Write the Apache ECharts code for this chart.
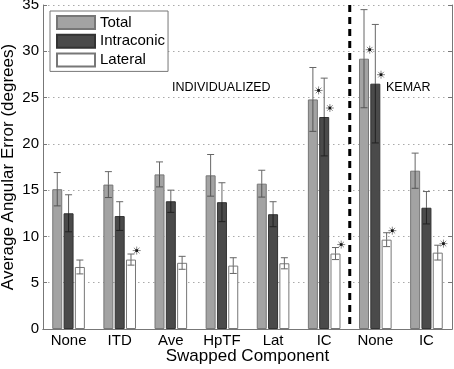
<!DOCTYPE html>
<html>
<head>
<meta charset="utf-8">
<script src="https://cdn.jsdelivr.net/npm/echarts@6/dist/echarts.min.js"></script>
<style>
  html, body { margin: 0; padding: 0; background: #fff; }
  #chart { width: 454px; height: 369px; }
</style>
</head>
<body>
<div id="chart"></div>
<script>
var categories = ['None', 'ITD', 'Ave', 'HpTF', 'Lat', 'IC', 'None', 'IC'];
var total      = [15.1, 15.6, 16.7, 16.6, 15.7, 24.8, 29.2, 17.1];
var totalErr   = [1.8, 1.4, 1.35, 2.25, 1.45, 3.45, 5.3, 1.9];
var intraconic = [12.5, 12.2, 13.8, 13.7, 12.4, 22.9, 26.5, 13.1];
var intraErr   = [2.0, 1.55, 1.2, 2.1, 1.35, 4.2, 6.4, 1.75];
var lateral    = [6.7, 7.5, 7.15, 6.85, 7.1, 8.15, 9.65, 8.25];
var latErr     = [0.75, 0.6, 0.7, 0.85, 0.6, 0.65, 0.75, 0.8];
// [category index, series index] of the starred bars
var stars = [[1, 2], [5, 0], [5, 1], [5, 2], [6, 0], [6, 1], [6, 2], [7, 2]];
var yTicks = [0, 5, 10, 15, 20, 25, 30, 35];

var FONT = 'Liberation Sans, Arial, Helvetica, sans-serif';
var BAR_W = 10, BAR_STEP = 11.3;
var allValues = [total, intraconic, lateral];

var chart = echarts.init(document.getElementById('chart'));

function errorSeries(values, errs, k, innerColor) {
  return {
    type: 'custom',
    z: 5,
    silent: true,
    encode: { x: 0, y: 1 },
    data: values.map(function (v, i) { return [i, v, errs[i]]; }),
    renderItem: function (params, api) {
      var c = api.value(0), v = api.value(1), e = api.value(2);
      var x = api.coord([c, v])[0] + (k - 1) * BAR_STEP;
      var yMid = api.coord([c, v])[1];
      var yTop = api.coord([c, v + e])[1];
      var yBot = api.coord([c, v - e])[1];
      var h = 3.5;
      return {
        type: 'group',
        children: [
          { type: 'line', shape: { x1: x, y1: yMid, x2: x, y2: yTop }, style: { stroke: '#666', lineWidth: 1 } },
          { type: 'line', shape: { x1: x - h, y1: yTop, x2: x + h, y2: yTop }, style: { stroke: '#666', lineWidth: 1 } },
          { type: 'line', shape: { x1: x, y1: yMid, x2: x, y2: yBot }, style: { stroke: innerColor, lineWidth: 1 } },
          { type: 'line', shape: { x1: x - h, y1: yBot, x2: x + h, y2: yBot }, style: { stroke: innerColor, lineWidth: 1 } }
        ]
      };
    }
  };
}

var starSeries = {
  type: 'custom',
  z: 6,
  silent: true,
  encode: { x: 0, y: 1 },
  data: stars.map(function (s) { return [s[0], allValues[s[1]][s[0]], s[1]]; }),
  renderItem: function (params, api) {
    var c = api.value(0), v = api.value(1), k = api.value(2);
    var p = api.coord([c, v]);
    var x = p[0] + (k - 1) * BAR_STEP + 5.7;
    var y = p[1] - 9;
    var r = 4, children = [];
    for (var a = 0; a < 4; a++) {
      var ang = a * Math.PI / 4;
      children.push({
        type: 'line',
        shape: { x1: x - r * Math.cos(ang), y1: y - r * Math.sin(ang), x2: x + r * Math.cos(ang), y2: y + r * Math.sin(ang) },
        style: { stroke: '#888', lineWidth: 1 }
      });
    }
    children.push({ type: 'rect', shape: { x: x - 1.3, y: y - 1.3, width: 2.6, height: 2.6 }, style: { fill: '#111' } });
    return { type: 'group', children: children };
  }
};

var dividerSeries = {
  type: 'custom',
  z: 4,
  silent: true,
  encode: { x: 0, y: 1 },
  data: [[5, 0]],
  renderItem: function (params, api) {
    var x = api.coord([5, 0])[0] + api.size([1, 0])[0] / 2;
    var y1 = api.coord([5, 0])[1];
    var y2 = api.coord([5, 35])[1];
    return {
      type: 'line',
      shape: { x1: x, y1: y2, x2: x, y2: y1 },
      style: { stroke: '#000', lineWidth: 3, lineDash: [7, 5] }
    };
  }
};

var option = {
  animation: false,
  backgroundColor: '#fff',
  grid: { left: 43, right: 2, top: 5, bottom: 40, outerBoundsMode: 'none', containLabel: false },
  legend: {
    orient: 'vertical',
    left: 50,
    top: 11,
    padding: [4, 3, 4, 6],
    icon: 'rect',
    itemWidth: 38,
    itemHeight: 13,
    itemGap: 3.7,
    backgroundColor: '#fff',
    borderColor: '#777',
    borderWidth: 1,
    borderRadius: 0,
    data: ['Total', 'Intraconic', 'Lateral'],
    textStyle: { fontFamily: FONT, fontSize: 15, color: '#000', lineHeight: 15 }
  },
  xAxis: [{
    type: 'category',
    data: categories,
    position: 'bottom',
    axisLine: { lineStyle: { color: '#777', width: 1 } },
    axisTick: { show: false },
    axisLabel: { fontFamily: FONT, fontSize: 15, color: '#000', margin: 4, interval: 0 },
    name: 'Swapped Component',
    nameLocation: 'middle',
    nameGap: 19,
    nameMoveOverlap: false,
    nameTextStyle: { fontFamily: FONT, fontSize: 17, color: '#000' }
  }, {
    type: 'category',
    data: categories,
    position: 'top',
    axisLine: { lineStyle: { color: '#777', width: 1 } },
    axisTick: { inside: true, alignWithLabel: true, length: 4, lineStyle: { color: '#777' } },
    axisLabel: { show: false }
  }],
  yAxis: [{
    type: 'value',
    min: 0,
    max: 35,
    interval: 5,
    position: 'left',
    axisLine: { show: true, lineStyle: { color: '#777', width: 1 } },
    axisTick: { show: true, inside: true, length: 4, lineStyle: { color: '#777' } },
    axisLabel: { fontFamily: FONT, fontSize: 15, color: '#000', margin: 4,
      formatter: function (v) { return yTicks.indexOf(v) >= 0 ? String(v) : ''; } },
    splitLine: { show: true, lineStyle: { color: '#aaa', width: 1, type: [1.5, 3.5] } },
    name: 'Average Angular Error (degrees)',
    nameLocation: 'middle',
    nameGap: 26,
    nameMoveOverlap: false,
    nameTextStyle: { fontFamily: FONT, fontSize: 17, color: '#000' }
  }, {
    type: 'value',
    min: 0,
    max: 35,
    interval: 5,
    position: 'right',
    axisLine: { show: true, lineStyle: { color: '#777', width: 1 } },
    axisTick: { show: true, inside: true, length: 4, lineStyle: { color: '#777' } },
    axisLabel: { show: false },
    splitLine: { show: false }
  }],
  graphic: [
    { type: 'text', left: 172, top: 81, style: { text: 'INDIVIDUALIZED', fontFamily: FONT, fontSize: 12.5, fill: '#000' } },
    { type: 'text', left: 386, top: 81, style: { text: 'KEMAR', fontFamily: FONT, fontSize: 12.5, fill: '#000' } }
  ],
  series: [{
    name: 'Total',
    type: 'bar',
    data: total,
    barWidth: BAR_W,
    barGap: ((BAR_STEP - BAR_W) / BAR_W * 100) + '%',
    itemStyle: { color: '#a3a3a3', borderColor: '#777', borderWidth: 1 }
  }, {
    name: 'Intraconic',
    type: 'bar',
    data: intraconic,
    barWidth: BAR_W,
    itemStyle: { color: '#4a4a4a', borderColor: '#333', borderWidth: 1 }
  }, {
    name: 'Lateral',
    type: 'bar',
    data: lateral,
    barWidth: BAR_W,
    itemStyle: { color: '#fff', borderColor: '#777', borderWidth: 1 }
  },
    errorSeries(total, totalErr, 0, '#555'),
    errorSeries(intraconic, intraErr, 1, '#222'),
    errorSeries(lateral, latErr, 2, '#666'),
    starSeries,
    dividerSeries
  ]
};

chart.setOption(option);
</script>
</body>
</html>
